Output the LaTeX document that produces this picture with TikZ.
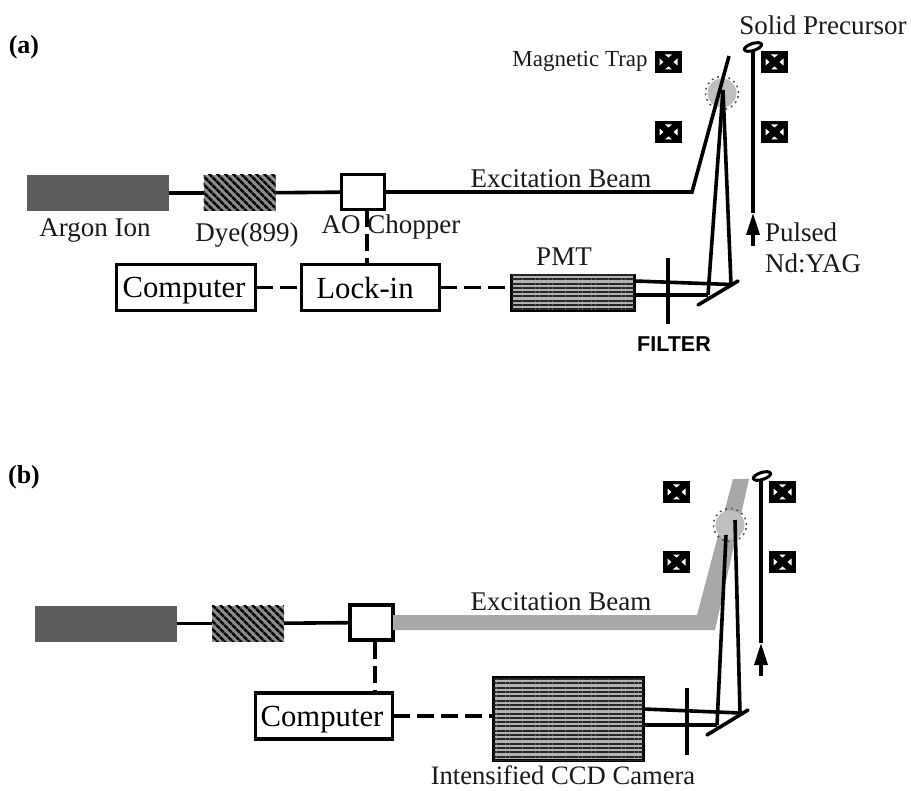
\documentclass[tikz,border=0pt]{standalone}
\usepackage{fontspec}
\setmainfont{Liberation Serif}
\newfontfamily\labelsans{Liberation Sans}
\usetikzlibrary{positioning,arrows.meta,patterns.meta,shapes.geometric}
\definecolor{laser}{gray}{0.36}
\definecolor{beam}{gray}{0.66}
\definecolor{cloud}{gray}{0.75}

\begin{document}
\begin{tikzpicture}[
  x=1pt, y=-1pt,
  every node/.style={inner sep=0pt, outer sep=0pt},
  lbl/.style={font=\fontsize{27}{29}\selectfont, text=black!90},
  bigbox/.style={draw, line width=3.2pt, fill=white, text depth=0pt, font=\fontsize{30.7}{32}\selectfont},
  argon/.style={fill=laser, minimum width=142pt, minimum height=36pt},
  dye/.style={fill=laser!70, postaction={pattern={Lines[angle=-45,distance=5.4pt,line width=2.8pt]}}, minimum width=72pt, minimum height=36pt},
  chopper/.style={draw, line width=3.2pt, fill=white, minimum width=43pt, minimum height=35pt},
  ruled/.style={draw, line width=2.8pt, fill=black!30, postaction={pattern={Lines[angle=0,distance=4.3pt,line width=2pt]}, pattern color=black!85}},
  ray/.style={line width=3.6pt},
  ctrl/.style={line width=3.2pt, dash pattern=on 17pt off 7pt},
  lens/.style={draw, line width=3pt, fill=white, ellipse, minimum width=18pt, minimum height=7pt, rotate=18},
  blob/.style={circle, fill=cloud, minimum size=29pt},
  ring/.style={circle, draw=black!70, dash pattern=on 1.8pt off 4pt, line width=1.5pt, minimum size=33pt},
  pump/.style={line width=3.6pt, -{Triangle[length=22pt,width=13pt]}},
  coil/.pic={
    \fill (-13.5,-11) rectangle (13.5,11);
    \fill[white] (-9,-3.5) -- (-5,0) -- (-9,3.5) -- cycle;
    \fill[white] (9,-3.5) -- (5,0) -- (9,3.5) -- cycle;
    \fill[white] (-3.5,-7.5) -- (0,-4.5) -- (3.5,-7.5) -- cycle;
    \fill[white] (-3.5,7.5) -- (0,4.5) -- (3.5,7.5) -- cycle;
  }
]
\useasboundingbox (0,0) rectangle (911,791);

% panel (a)
\node[font=\fontsize{26}{28}\bfseries\selectfont] (tagA) at (24,47) {(a)};
\node[argon] (argonA) at (97.5,193) {};
\node[dye] (dyeA) at (239.5,193) {};
\node[chopper] (aomA) at (363,192) {};
\node[bigbox, minimum width=139pt, minimum height=46pt] (compA) at (186,287.5) {Computer\hspace*{4pt}};
\node[bigbox, minimum width=138pt, minimum height=46pt] (lockA) at (370.5,287.5) {Lock-in\hspace*{11pt}};
\node[ruled, minimum width=123pt, minimum height=36pt] (pmtA) at (573,293) {};
\node[lbl] (argonTxt) at (95,231) {Argon Ion};
\node[lbl] (dyeTxt) at (247,235) {Dye(899)};
\coordinate (ctrlTopA) at (367,210);
\coordinate (ctrlBotA) at (367,263);
\draw[ctrl] (ctrlTopA) -- (ctrlBotA);
\node[lbl] (aomTxt) at (391,227) {AO Chopper};
\node[lbl] (pmtTxt) at (564,257) {PMT};
\node[lbl] (exciteA) at (561,179) {Excitation Beam};
\node[lbl, font=\fontsize{23}{25}\selectfont] (trapTxt) at (580,61) {Magnetic Trap};
\node[lbl] (solidTxt) at (823,25) {Solid Precursor};
\node[lbl, anchor=west] (pulseTxt) at (765,232) {Pulsed};
\node[lbl, anchor=west] (yagTxt) at (765,263) {Nd:YAG};
\node[font=\labelsans\bfseries\fontsize{21.5}{23}\selectfont] (filtTxt) at (674,344) {FILTER};
\coordinate (bendA) at (692,192);
\coordinate (topA) at (729,56);
\coordinate (spotA) at (723,90);
\coordinate (mirLA) at (698,305);
\coordinate (mirRA) at (738,281);
\coordinate (hitLA) at (708,295);
\coordinate (hitRA) at (731,284.5);
\coordinate (filtTopA) at (668,258);
\coordinate (filtBotA) at (668,324);
\coordinate (pumpBotA) at (753,246);
\coordinate (pumpTopA) at (753,213);
\coordinate (pumpEndA) at (753,50);
\node[blob] (blobA) at (722,93) {};
\node[ring] (ringA) at (722,93) {};
\node[lens] (lensA) at (753,47) {};
\foreach \cx/\cy/\cn in {668.5/62/a,774.5/62/b,668.5/132/c,774.5/132/d}
  \pic (coilA\cn) at (\cx,\cy) {coil};
\draw[ray] (argonA) -- (dyeA);
\draw[ray] (dyeA) -- (aomA);
\draw[ray] (aomA.east |- bendA) -- (bendA) -- (topA);
\draw[ctrl] (compA) -- (lockA);
\draw[ctrl] (lockA) -- (lockA -| pmtA.west);
\draw[ray] (spotA) -- (hitLA);
\draw[ray] (spotA) -- (hitRA);
\draw[ray] (pmtA.east |- 0,281) -- (hitRA);
\draw[ray] (pmtA.east |- hitLA) -- (hitLA);
\draw[ray, line cap=round] (mirLA) -- (mirRA);
\draw[ray] (filtTopA) -- (filtBotA);
\draw[pump] (pumpBotA) -- (pumpTopA);
\draw[ray] (pumpTopA) -- (pumpEndA);

% panel (b)
\node[font=\fontsize{26}{28}\bfseries\selectfont] (tagB) at (24,477) {(b)};
\node[argon] (argonB) at (106,623.5) {};
\node[dye] (dyeB) at (248,623.5) {};
\node[chopper] (aomB) at (371.5,622.5) {};
\node[bigbox, minimum width=137pt, minimum height=46pt] (compB) at (324,716) {Computer\hspace*{4pt}};
\node[ruled, minimum width=150pt, minimum height=83pt] (camB) at (568.5,719) {};
\node[lbl] (exciteB) at (561,602) {Excitation Beam};
\node[lbl, font=\fontsize{26.6}{28}\selectfont] (camTxt) at (563,775) {Intensified CCD Camera};
\coordinate (ctrlTopB) at (375,642);
\coordinate (ctrlBotB) at (375,692);
\coordinate (mirLB) at (707,735);
\coordinate (mirRB) at (748,710);
\coordinate (hitLB) at (717,725);
\coordinate (hitRB) at (740,713);
\coordinate (spotLB) at (726,535);
\coordinate (spotRB) at (735,520);
\coordinate (filtTopB) at (687,688);
\coordinate (filtBotB) at (687,755);
\coordinate (pumpBotB) at (761,676);
\coordinate (pumpTopB) at (761,643);
\coordinate (pumpEndB) at (761,480);
\fill[beam] (aomB.east |- 0,615) -- (697,615) -- (733,479) -- (749,479) -- (715,630) -- (aomB.east |- 0,630) -- cycle;
\node[blob] (blobB) at (730,525) {};
\node[ring] (ringB) at (730,525) {};
\node[lens] (lensB) at (762,476) {};
\foreach \cx/\cy/\cn in {676.5/492/a,782.5/492/b,676.5/562/c,782.5/562/d}
  \pic (coilB\cn) at (\cx,\cy) {coil};
\draw[ray] (argonB) -- (dyeB);
\draw[ray] (dyeB) -- (aomB);
\draw[ctrl] (ctrlTopB) -- (ctrlBotB);
\draw[ctrl] (compB) -- (camB.west |- compB);
\draw[ray] (spotLB) -- (hitLB);
\draw[ray] (spotRB) -- (hitRB);
\draw[ray] (camB.east |- 0,709) -- (hitRB);
\draw[ray] (camB.east |- hitLB) -- (hitLB);
\draw[ray, line cap=round] (mirLB) -- (mirRB);
\draw[ray] (filtTopB) -- (filtBotB);
\draw[pump] (pumpBotB) -- (pumpTopB);
\draw[ray] (pumpTopB) -- (pumpEndB);
\end{tikzpicture}
\end{document}
